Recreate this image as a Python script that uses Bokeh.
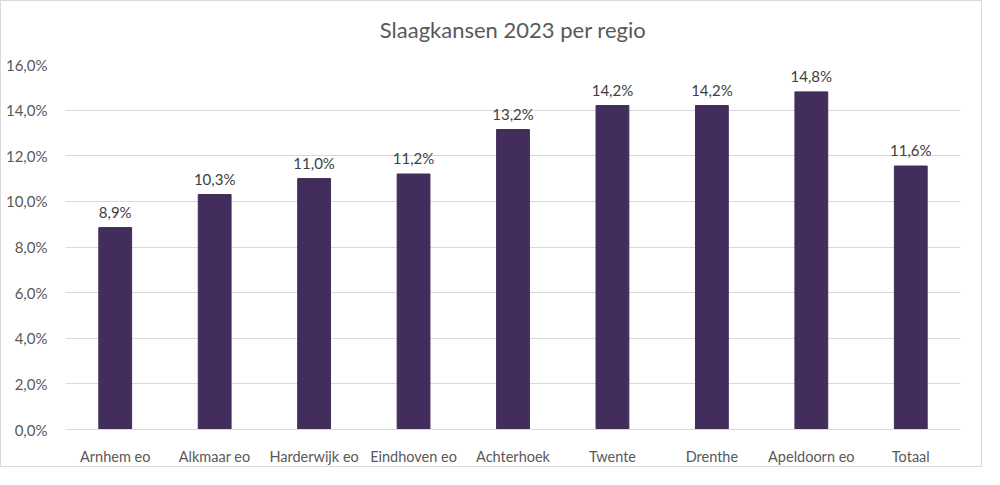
from bokeh.plotting import figure
from bokeh.models import ColumnDataSource, FixedTicker, Range1d, Title
from bokeh.core.properties import value
from bokeh.embed import file_html
from bokeh.resources import INLINE

title_text = "Slaagkansen 2023 per regio"
categories = ["Arnhem eo", "Alkmaar eo", "Harderwijk eo", "Eindhoven eo", "Achterhoek",
              "Twente", "Drenthe", "Apeldoorn eo", "Totaal"]
values = [8.85, 10.3, 11.0, 11.2, 13.15, 14.2, 14.2, 14.8, 11.55]
labels = ["8,9%", "10,3%", "11,0%", "11,2%", "13,2%", "14,2%", "14,2%", "14,8%", "11,6%"]
y_ticks = [0, 2, 4, 6, 8, 10, 12, 14, 16]
y_tick_labels = ["0,0%", "2,0%", "4,0%", "6,0%", "8,0%", "10,0%", "12,0%", "14,0%", "16,0%"]

FONT = "Lato"

src = ColumnDataSource(dict(cat=categories, val=values, lab=labels))

p = figure(x_range=categories, y_range=Range1d(0, 16), width=982, height=467,
           output_backend="svg", toolbar_location=None, tools="",
           min_border_left=64, min_border_right=23, min_border_top=63, min_border_bottom=39)
p.styles = {"border": "1px solid #d9d9d9"}

# spacer between the title and the plot area
p.add_layout(Title(text=" ", text_font_size="12px", standoff=6), "above")
p.add_layout(Title(text=title_text, align="center", text_font=FONT, text_font_size="22px",
                   text_font_style="normal", text_color="#595959", standoff=0), "above")

p.vbar(x="cat", top="val", width=0.33, source=src, color="#422d5c")
p.text(x="cat", y="val", text="lab", source=src, text_align="center", text_baseline="bottom",
       y_offset=-7, text_font=value(FONT), text_font_size="15px", text_color="#404040")

p.outline_line_color = None
p.xgrid.grid_line_color = None
p.ygrid.grid_line_color = "#d9d9d9"
p.ygrid.ticker = FixedTicker(ticks=y_ticks)

p.yaxis.ticker = FixedTicker(ticks=y_ticks)
p.yaxis.major_label_overrides = {t: l for t, l in zip(y_ticks, y_tick_labels)}
for ax in (p.xaxis[0], p.yaxis[0]):
    ax.axis_line_color = None
    ax.major_tick_line_color = None
    ax.minor_tick_line_color = None
    ax.major_label_text_font = FONT
    ax.major_label_text_font_size = "15px"
    ax.major_label_text_color = "#595959"
p.xaxis.major_label_text_font_size = "14.5px"
p.xaxis.axis_line_color = "#d9d9d9"
p.yaxis.major_label_standoff = 12
p.xaxis.major_label_standoff = 12

open("out.html", "w").write(file_html(p, INLINE))
